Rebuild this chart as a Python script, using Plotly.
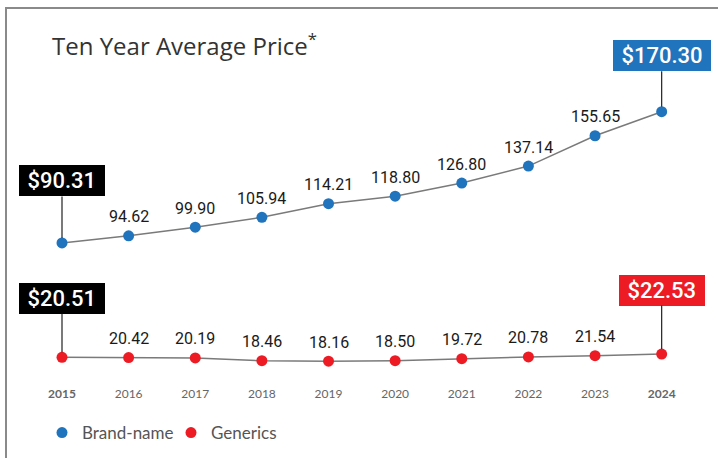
import plotly.graph_objects as go

years = [2015, 2016, 2017, 2018, 2019, 2020, 2021, 2022, 2023, 2024]
brand = [90.31, 94.62, 99.90, 105.94, 114.21, 118.80, 126.80, 137.14, 155.65, 170.30]
generics = [20.51, 20.42, 20.19, 18.46, 18.16, 18.50, 19.72, 20.78, 21.54, 22.53]
tick_labels = ["<b>2015</b>", "2016", "2017", "2018", "2019", "2020", "2021", "2022", "2023", "<b>2024</b>"]

BLUE = "#1f74bd"
RED = "#ed1c24"
LINE = "#7a7a7a"
W, H = 718, 458

fig = go.Figure()

for name, vals, color in [("Brand-name", brand, BLUE), ("Generics", generics, RED)]:
    fig.add_trace(go.Scatter(x=years, y=vals, mode="lines", line=dict(color=LINE, width=1.5),
                             showlegend=False, hoverinfo="skip"))
    fig.add_trace(go.Scatter(x=years, y=vals, mode="markers", name=name,
                             marker=dict(color=color, size=11)))

annotations = []
# value labels for inner points
for vals in (brand, generics):
    for x, v in zip(years[1:-1], vals[1:-1]):
        annotations.append(dict(x=x, y=v, xref="x", yref="y", text=f"{v:.2f}", showarrow=False,
                                yshift=19, font=dict(family="Roboto", size=16, color="#1a1a1a")))

# callouts
callouts = [
    (years[0], brand[0], "#000000", -62),
    (years[-1], brand[-1], BLUE, -56),
    (years[0], generics[0], "#000000", -59),
    (years[-1], generics[-1], RED, -64),
]
for x, v, bg, ay in callouts:
    annotations.append(dict(x=x, y=v, xref="x", yref="y", text=f"\u00a0${v:.2f}\u00a0",
                            showarrow=True, arrowhead=0, arrowwidth=1.2, arrowcolor="#222",
                            ax=0, ay=ay, standoff=5, bgcolor=bg, borderpad=3, borderwidth=0,
                            height=25,
                            font=dict(family="Roboto", size=22, color="white", weight=500)))

annotations.append(dict(x=50 / W, y=1 - 45 / H, xref="paper", yref="paper", xanchor="left",
                        yanchor="middle", showarrow=False,
                        text="Ten Year Average Price<sup>*</sup>",
                        font=dict(family="Open Sans", size=24, color="#333333")))

px_per_year = 66.63
x0 = 2015 - 62 / px_per_year
x1 = x0 + W / px_per_year
px_per_unit = 1.64
y_top = 90.31 + 242.9 / px_per_unit
y_bot = 90.31 - (H - 242.9) / px_per_unit

fig.update_layout(
    width=W, height=H,
    margin=dict(l=0, r=0, t=0, b=0),
    paper_bgcolor="white", plot_bgcolor="white",
    xaxis=dict(range=[x0, x1], tickvals=years, ticktext=tick_labels, showgrid=False,
               zeroline=False, showline=False, anchor="free", position=1 - 385 / H,
               tickfont=dict(family="Lato", size=12, color="#666666"), fixedrange=True),
    yaxis=dict(range=[y_bot, y_top], visible=False, fixedrange=True),
    legend=dict(orientation="h", x=42 / W, y=1 - 433 / H, xanchor="left", yanchor="middle",
                font=dict(family="Lato", size=17, color="#555555"), itemwidth=30,
                entrywidth=84, entrywidthmode="pixels",
                bgcolor="rgba(0,0,0,0)"),
    annotations=annotations,
    shapes=[dict(type="rect", xref="paper", yref="paper", x0=6 / W, x1=1.05, y0=-0.05,
                 y1=1 - 8 / H, line=dict(color="#8a8a8a", width=2), layer="below")],
)

fig.write_html("out.html", config={"displayModeBar": False},
               post_script="document.body.style.margin='0';")
